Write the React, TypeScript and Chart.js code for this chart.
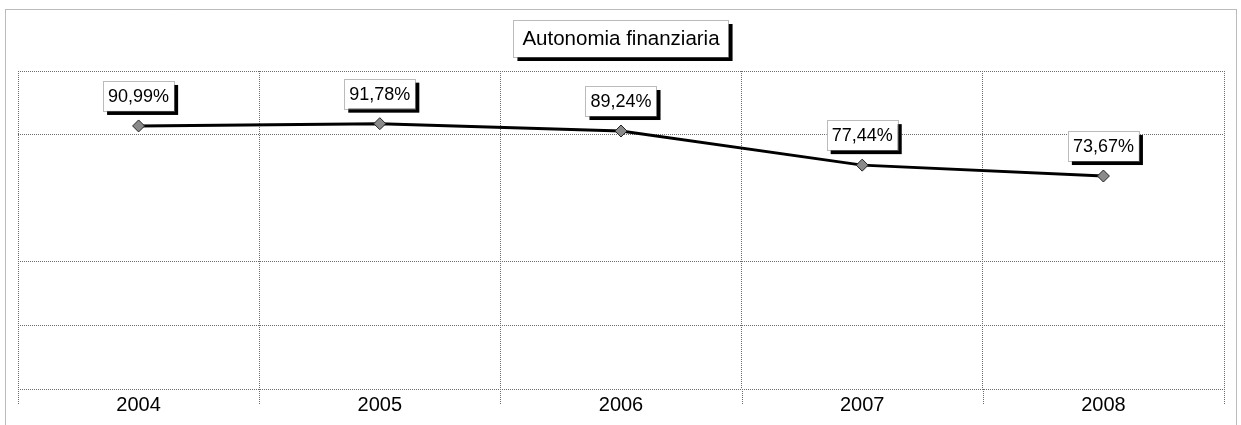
import React, { useEffect, useRef } from "react";
import { Chart, registerables } from "chart.js";

Chart.register(...registerables);

const chartTitle = "Autonomia finanziaria";
const years = ["2004", "2005", "2006", "2007", "2008"];
const autonomia = [90.99, 91.78, 89.24, 77.44, 73.67];
const yMin = 0;
const yMax = 110;
const yStep = 22;
const hiddenGridValues = [66];

const FONT = "'Liberation Sans', Arial, sans-serif";
const GRID = "#6b6b6b";

const fmt = (v: number) => v.toFixed(2).replace(".", ",") + "%";

function boxWithShadow(ctx: CanvasRenderingContext2D, x: number, y: number, w: number, h: number) {
  ctx.save();
  ctx.fillStyle = "#000";
  ctx.fillRect(x + 4, y + 4, w, h);
  ctx.fillStyle = "#fff";
  ctx.fillRect(x, y, w, h);
  ctx.strokeStyle = "#777";
  ctx.lineWidth = 1;
  ctx.setLineDash([1, 1]);
  ctx.strokeRect(Math.round(x) + 0.5, Math.round(y) + 0.5, Math.round(w), Math.round(h));
  ctx.restore();
}

const decorPlugin = {
  id: "decor",
  afterDraw(chart: any) {
    const ctx: CanvasRenderingContext2D = chart.ctx;
    const area = chart.chartArea;
    const xs = chart.scales.x;

    // outer frame
    ctx.save();
    ctx.strokeStyle = "#777";
    ctx.lineWidth = 1;
    ctx.setLineDash([1, 1]);
    ctx.strokeRect(5.5, 9.5, 1231, 420);
    ctx.restore();

    // category boundary tick marks below the plot
    ctx.save();
    ctx.strokeStyle = GRID;
    ctx.lineWidth = 1;
    ctx.setLineDash([1, 1]);
    const n = years.length;
    const bounds: number[] = [area.left];
    for (let i = 1; i < n; i++) bounds.push((xs.getPixelForTick(i - 1) + xs.getPixelForTick(i)) / 2);
    bounds.push(area.right);
    bounds.forEach((bx) => {
      const px = Math.round(bx) + 0.5;
      ctx.beginPath();
      ctx.moveTo(px, area.bottom);
      ctx.lineTo(px, area.bottom + 16);
      ctx.stroke();
    });
    ctx.restore();

    // title box
    ctx.save();
    ctx.font = `20.5px ${FONT}`;
    const tw = ctx.measureText(chartTitle).width;
    const bw = tw + 18;
    const bh = 37;
    const cx = (area.left + area.right) / 2;
    const bx = cx - bw / 2;
    const by = 20;
    boxWithShadow(ctx, bx, by, bw, bh);
    ctx.fillStyle = "#000";
    ctx.textAlign = "center";
    ctx.textBaseline = "middle";
    ctx.fillText(chartTitle, cx, by + bh / 2 + 1);
    ctx.restore();

    // data labels
    const meta = chart.getDatasetMeta(0);
    ctx.save();
    ctx.font = `18px ${FONT}`;
    meta.data.forEach((pt: any, i: number) => {
      const txt = fmt(autonomia[i]);
      const w = ctx.measureText(txt).width + 10;
      const h = 30;
      const x = pt.x - w / 2;
      const y = pt.y - 30 - h / 2;
      boxWithShadow(ctx, x, y, w, h);
      ctx.fillStyle = "#000";
      ctx.textAlign = "center";
      ctx.textBaseline = "middle";
      ctx.fillText(txt, pt.x, y + h / 2 + 1);
    });
    ctx.restore();
  },
};

export default function App() {
  const ref = useRef<HTMLCanvasElement | null>(null);
  useEffect(() => {
    document.body.style.margin = "0";
    const canvas = ref.current!;
    const chart = new Chart(canvas, {
      type: "line",
      data: {
        labels: years,
        datasets: [
          {
            label: chartTitle,
            data: autonomia,
            borderColor: "#000",
            borderWidth: 3,
            tension: 0,
            pointStyle: "rectRot",
            pointRadius: 6,
            pointBackgroundColor: "#8a8a8a",
            pointBorderColor: "#222",
            pointBorderWidth: 1,
          },
        ],
      },
      options: {
        responsive: false,
        animation: false,
        layout: { padding: { left: 18, right: 17, top: 71, bottom: 4 } },
        plugins: { legend: { display: false }, title: { display: false }, tooltip: { enabled: false } },
        scales: {
          x: {
            offset: true,
            grid: {
              offset: true,
              color: GRID,
              lineWidth: 1,
              drawTicks: false,
            },
            border: { display: false, dash: [1, 1] },
            ticks: {
              color: "#000",
              font: { family: FONT, size: 20 },
              padding: 4,
              maxRotation: 0,
            },
          },
          y: {
            min: yMin,
            max: yMax,
            ticks: { display: false, stepSize: yStep },
            grid: {
              drawTicks: false,
              color: (c: any) => (hiddenGridValues.includes(c.tick?.value) ? "rgba(0,0,0,0)" : GRID),
              lineWidth: 1,
            },
            border: { display: false, dash: [1, 1] },
          },
        },
      },
      plugins: [decorPlugin],
    });
    return () => chart.destroy();
  }, []);
  return (
    <div style={{ width: 1241, height: 425, background: "#fff" }}>
      <canvas ref={ref} width={1241} height={425} style={{ display: "block" }} />
    </div>
  );
}
